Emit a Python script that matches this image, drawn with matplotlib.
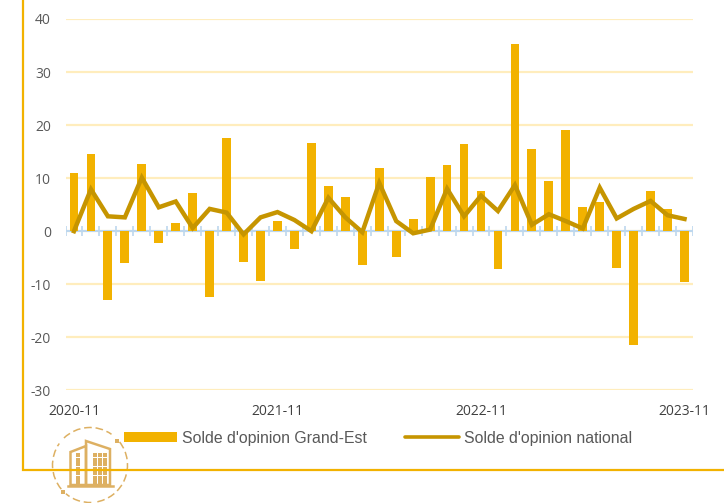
import numpy as np
import matplotlib
matplotlib.use('Agg')
import matplotlib.pyplot as plt
from matplotlib.lines import Line2D
from matplotlib.patches import Arc, Polygon

plt.rcParams['axes.unicode_minus'] = False

# donnees (nov. 2020 -> nov. 2023)
grand_est = [11, 14.5, -13, -6, 12.6, -2.3, 1.5, 7.2, -12.5, 17.6, -5.8, -9.3,
             2, -3.3, 16.6, 8.6, 6.5, -6.3, 12, -4.8, 2.3, 10.3, 12.4, 16.5,
             7.6, -7.2, 35.3, 15.4, 9.5, 19, 4.5, 5.5, -7, -21.5, 7.6, 4.2, -9.6]
national = [0, 7.9, 2.8, 2.6, 10.1, 4.5, 5.6, 0.6, 4.2, 3.5, -0.6, 2.6,
            3.6, 2.1, 0, 6.3, 2.6, -0.2, 9.1, 1.9, -0.4, 0.3, 8, 2.8,
            6.7, 3.8, 8.7, 1.2, 3.2, 1.9, 0.5, 8.2, 2.4, 4.2, 5.7, 3, 2.3]
y_ticks = [-30, -20, -10, 0, 10, 20, 30, 40]
x_labels = {0: '2020-11', 12: '2021-11', 24: '2022-11', 36: '2023-11'}

GOLD = '#F2B200'
DARK = '#C69500'
GRID = '#FFEDBD'
BLUE = '#BDD7EE'
ICON = '#DDB062'
W, H = 724, 503

fig = plt.figure(figsize=(W / 100, H / 100), dpi=100)
ax = fig.add_axes([65.5 / W, 1 - 390.3 / H, 627.5 / W, 371.3 / H])
x = np.arange(len(grand_est))

ax.set_xlim(-0.5, 36.5)
ax.set_ylim(-30, 40)
for s in ax.spines.values():
    s.set_visible(False)
ax.set_yticks(y_ticks)
ax.tick_params(axis='y', length=0, pad=10.5, labelsize=10, labelcolor='#595959')
for lab in ax.get_yticklabels():
    lab.set_family('Open Sans')
ax.set_xticks([])
ax.grid(axis='y', color=GRID, lw=1.6, zorder=0)
ax.set_axisbelow(True)

ax.axhline(0, color=BLUE, lw=1.5, zorder=1)
ax.vlines(np.arange(-0.5, 37), -0.9, 0.9, color=BLUE, lw=1.2, zorder=1)
bars = ax.bar(x, grand_est, width=0.52, color=GOLD, zorder=2)
line, = ax.plot(x, national, color=DARK, lw=3.2, solid_joinstyle='miter', zorder=3)

for i, lab in x_labels.items():
    ax.annotate(lab, (i, -30), xytext=(0, -21), textcoords='offset pixels', ha='center',
                va='center', fontsize=10, family='Open Sans', color='#404040', annotation_clip=False)

# calque en pixels : cadre, legende, icone
over = fig.add_axes([0, 0, 1, 1], facecolor='none')
over.set_xlim(0, W)
over.set_ylim(H, 0)
over.axis('off')
over.plot([23, 23, W], [0, 470, 470], color=GOLD, lw=1.6, solid_joinstyle='miter', zorder=5)

handles = [Line2D([], [], color=GOLD, lw=7.2, solid_capstyle='butt'),
           Line2D([], [], color=DARK, lw=2.6, solid_capstyle='round')]
over.legend(handles, ["Solde d'opinion Grand-Est", "Solde d'opinion national"], ncol=2,
            loc='center left', bbox_to_anchor=(124 / W, 1 - 438 / H), borderpad=0, borderaxespad=0,
            frameon=False, handlelength=3.35, handletextpad=0.33, columnspacing=2.42,
            prop={'family': 'Liberation Sans', 'size': 11.4}, labelcolor='#595959')

# icone immeuble
for a, b in [(-38, 82), (88, 130), (140, 215), (226, 305)]:
    over.add_patch(Arc((90, 465), 75, 75, theta1=a, theta2=b, color=ICON, lw=1.1, ls=(0, (5, 2.5)), zorder=3))
over.scatter([117, 63], [441, 492], s=12, marker='s', color=ICON, lw=0, zorder=3)
over.add_patch(Polygon([(70.5, 485), (70.5, 452), (86, 446), (86, 485)], fill=False, ec=ICON, lw=1.8, zorder=4))
over.add_patch(Polygon([(86, 485), (86, 441), (110, 449), (110, 485)], fill=False, ec=ICON, lw=1.8, zorder=4))
over.plot([68, 113], [485.5, 485.5], color=ICON, lw=1.8, zorder=4)
wx, wy = np.meshgrid([78], np.arange(455, 484, 4.5))
over.scatter(wx, wy, s=6, marker='s', color=ICON, lw=0, zorder=4)
wx, wy = np.meshgrid([95, 100, 105], np.arange(455, 484, 4.5))
over.scatter(wx, wy, s=6, marker='s', color=ICON, lw=0, zorder=4)

fig.savefig('out.png', dpi=100, facecolor='white')
